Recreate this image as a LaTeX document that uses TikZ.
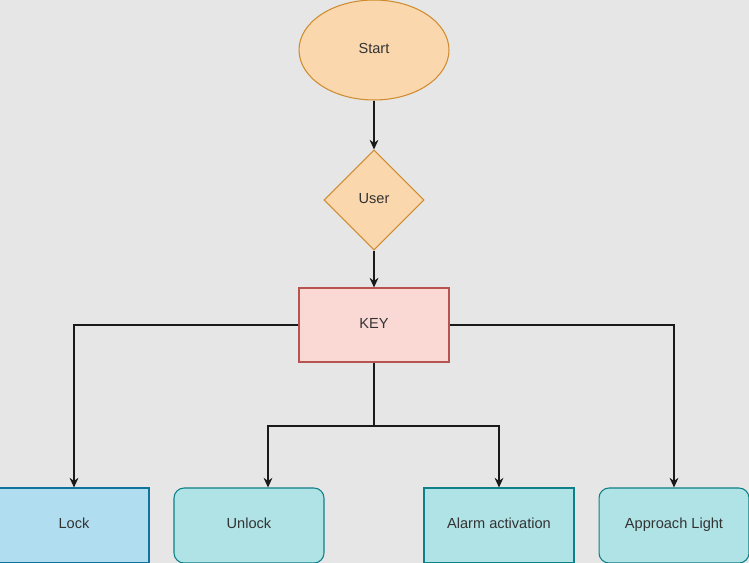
\documentclass[tikz,border=0pt]{standalone}
\usepackage{fontspec}
\setmainfont{Liberation Sans}
\usetikzlibrary{shapes.geometric,arrows.meta}
\definecolor{bggray}{HTML}{E6E6E6}
\definecolor{orangefill}{HTML}{FAD7AC}
\definecolor{orangeline}{HTML}{D08C30}
\definecolor{redfill}{HTML}{FAD9D5}
\definecolor{redline}{HTML}{B85450}
\definecolor{bluefill}{HTML}{B1DDF0}
\definecolor{blueline}{HTML}{10739E}
\definecolor{tealfill}{HTML}{B0E3E6}
\definecolor{tealline}{HTML}{0E8088}
\definecolor{wire}{HTML}{1A1A1A}
\begin{document}
\begin{tikzpicture}[x=0.02cm, y=-0.02cm,
  every node/.style={font=\fontsize{8.3}{10}\selectfont, text=black!80, text height=1.2ex, text depth=0.45ex},
  startshape/.style={ellipse, draw=orangeline, fill=orangefill, line width=0.6pt, minimum width=3cm, minimum height=2cm},
  usershape/.style={diamond, draw=orangeline, fill=orangefill, line width=0.6pt, minimum width=2cm, minimum height=2cm, inner sep=0pt},
  keybox/.style={rectangle, draw=redline, fill=redfill, line width=0.6pt, minimum width=3cm, minimum height=1.48cm},
  actbox/.style={rectangle, line width=0.6pt, minimum width=3cm, minimum height=1.5cm},
  flow/.style={draw=wire, line width=0.65pt, -{Stealth[length=5.5pt,width=5pt]}}]
\fill[bggray] (0,0) rectangle (749,563);
\useasboundingbox (0,0) rectangle (749,563);
%%
\node[startshape] (start) at (374,50) {Start};
\node[usershape] (user) at (374,200) {User};
\node[keybox] (key) at (374,325) {KEY};
%%
\node[actbox, draw=blueline, fill=bluefill] (lock) at (74,525.5) {Lock};
\node[actbox, draw=tealline, fill=tealfill, rounded corners=0.2cm] (unlock) at (249,525.5) {Unlock};
\node[actbox, draw=tealline, fill=tealfill] (alarm) at (499,525.5) {Alarm activation};
\node[actbox, draw=tealline, fill=tealfill, rounded corners=0.2cm] (light) at (674,525.5) {Approach Light};
%%
\draw[flow] (start) -- (user);
\draw[flow] (user) -- (key);
\draw[flow] (key.west) -| (lock.north);
\draw[flow] (key.east) -| (light.north);
\coordinate (split) at (374,426);
\draw[draw=wire, line width=0.65pt] (key.south) -- (split);
\draw[flow] (split) -| ([xshift=0.38cm]unlock.north);
\draw[flow] (split) -| (alarm.north);
\end{tikzpicture}
\end{document}
